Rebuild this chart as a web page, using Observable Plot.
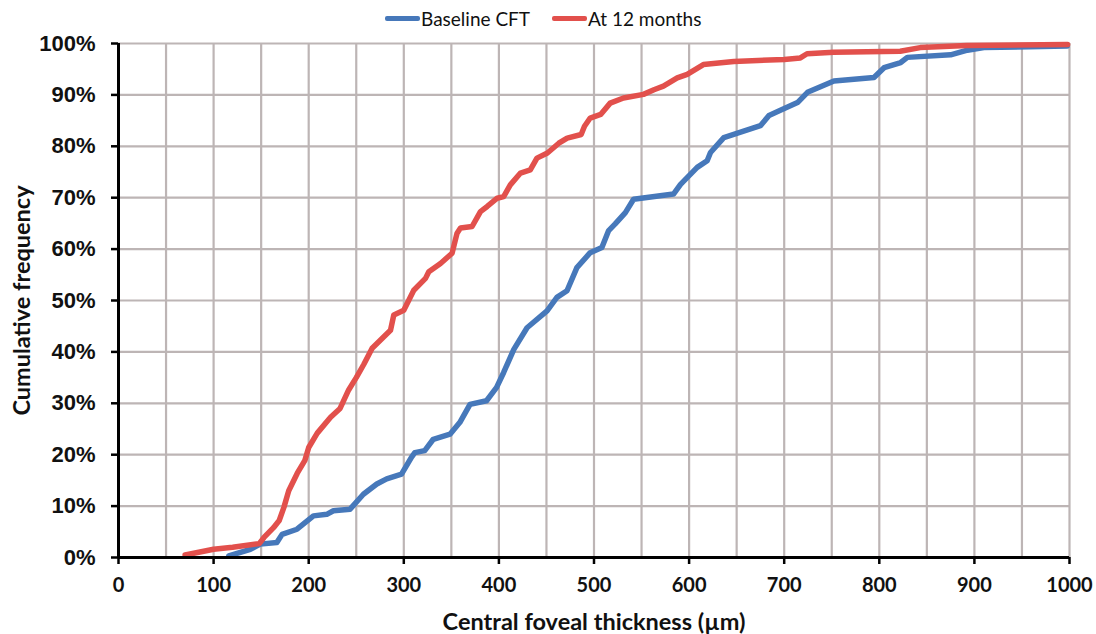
<!DOCTYPE html>
<html><head><meta charset="utf-8">
<script src="https://cdn.jsdelivr.net/npm/d3@7"></script>
<script src="https://cdn.jsdelivr.net/npm/@observablehq/plot@0.6"></script>
<style>
body{margin:0;background:#fff;width:1096px;height:634px;overflow:hidden;}
#legend{height:32px;position:relative;font-family:Lato,"Open Sans",sans-serif;font-size:19px;color:#111;}
.item{position:absolute;top:6px;display:flex;align-items:center;height:24px;}
.sw{width:35px;height:5px;border-radius:2px;margin-right:1px;}
</style></head>
<body>
<div id="legend"></div>
<div id="chart"></div>
<script>
// Series names and colours
const seriesNames = ["Baseline CFT", "At 12 months"];
const seriesColors = ["#4678ba", "#e2504c"];

// Baseline CFT: thickness (µm) and cumulative frequency (%)
const baselineX = [116,138.6,149,166.5,172,187.7,205,219,226,243.5,257.5,271.6,282,297.6,308,311.6,322,331,348.6,359,369.6,387,397.6,405,415.7,429.6,450.6,461,471.6,482,496,508.3,515.4,522.3,533,541.6,583.6,591,608.5,619,622.5,636.5,675,684,696,714,724.5,752.3,794.4,805,822.5,829.5,875,892.6,910,997.5];
const baselineY = [0.3,1.6,2.6,2.9,4.5,5.5,8.1,8.4,9.1,9.4,12.3,14.3,15.3,16.2,19.5,20.4,20.8,23,24,26.3,29.8,30.5,33.1,36,40.5,44.7,48,50.6,51.9,56.4,59.3,60.3,63.6,64.9,67.1,69.7,70.7,72.6,75.9,77.2,78.8,81.7,84,86,87,88.5,90.5,92.7,93.4,95.3,96.3,97.3,97.8,98.7,99.2,99.5];

// At 12 months
const month12X = [70,100,120,148,153,163,169,174,179,188,196,200,209,223,233,242,250,258,266.7,286,289.5,300,310.5,322.8,326.3,338.6,350.8,356,359.6,371.8,380.6,387.7,398.2,405,412,422.7,433,440,451,463,471.8,486.5,490,496,507,517,531,552,563,573,587.5,598,615,647,700,717,724,752,822,843,892,998];
const month12Y = [0.5,1.6,2.0,2.7,3.9,5.8,7.2,9.8,13,16.4,18.9,21.4,24.2,27.3,29,32.6,35,37.6,40.7,44.2,47.2,48.1,52,54.3,55.6,57.2,59.2,63.1,64.1,64.4,67.3,68.3,69.9,70.2,72.5,74.8,75.4,77.7,78.7,80.6,81.6,82.3,83.9,85.5,86.2,88.4,89.4,90.1,91,91.7,93.3,94,95.9,96.5,96.9,97.2,98,98.3,98.5,99.2,99.6,99.8];

// Ticks and grid
const xTicks = [0,100,200,300,400,500,600,700,800,900,1000];
const xGrid = [50,100,150,200,250,300,350,400,450,500,550,600,650,700,750,800,850,900,950,1000];
const yTicks = [0,10,20,30,40,50,60,70,80,90,100];
const yGrid = [10,20,30,40,50,60,70,80,90,100];
const xTitle = "Central foveal thickness (µm)";
const yTitle = "Cumulative frequency";

const baseline = baselineX.map((x, i) => ({x, y: baselineY[i]}));
const m12 = month12X.map((x, i) => ({x, y: month12Y[i]}));

// Legend
const legend = document.getElementById("legend");
const legendLeft = [385, 552];
seriesNames.forEach((n, i) => {
  const d = document.createElement("div");
  d.className = "item";
  d.style.left = legendLeft[i] + "px";
  d.innerHTML = `<span class="sw" style="background:${seriesColors[i]}"></span><span>${n}</span>`;
  legend.appendChild(d);
});

const gridStyle = {stroke: "#bdb5b5", strokeOpacity: 1, strokeWidth: 2.2};
const chart = Plot.plot({
  width: 1096, height: 602,
  marginTop: 11, marginBottom: 77, marginLeft: 118, marginRight: 27,
  x: {domain: [0, 1000]},
  y: {domain: [0, 100]},
  style: {background: "white", color: "#111"},
  marks: [
    Plot.gridX(xGrid, gridStyle),
    Plot.gridY(yGrid, gridStyle),
    Plot.axisX(xTicks, {tickSize: 7, tickPadding: 13, stroke: "#000", strokeWidth: 2.5, fill: "#111",
      fontSize: 20, fontWeight: "bold", fontFamily: "Lato", label: null, tickFormat: d => String(d)}),
    Plot.axisY(yTicks, {tickSize: 7, tickPadding: 16, stroke: "#000", strokeWidth: 2.5, fill: "#111",
      fontSize: 22, fontWeight: "bold", fontFamily: "Liberation Sans", label: null, tickFormat: d => d + "%"}),
    Plot.line(baseline, {x: "x", y: "y", stroke: seriesColors[0], strokeWidth: 5.5, strokeLinejoin: "round", strokeLinecap: "round"}),
    Plot.line(m12, {x: "x", y: "y", stroke: seriesColors[1], strokeWidth: 5.5, strokeLinejoin: "round", strokeLinecap: "round"}),
    Plot.ruleX([0], {stroke: "#000", strokeWidth: 3}),
    Plot.ruleY([0], {stroke: "#000", strokeWidth: 3}),
    Plot.text([xTitle], {frameAnchor: "bottom", textAnchor: "middle", dy: 72, fontSize: 23.5, fontWeight: "bold", fontFamily: "Lato", fill: "#111"}),
    Plot.text([yTitle], {frameAnchor: "left", textAnchor: "middle", lineAnchor: "middle", dx: -96, rotate: -90, fontSize: 23.5, fontWeight: "bold", fontFamily: "Lato", fill: "#111"})
  ]
});
document.getElementById("chart").appendChild(chart);
</script>
</body></html>
